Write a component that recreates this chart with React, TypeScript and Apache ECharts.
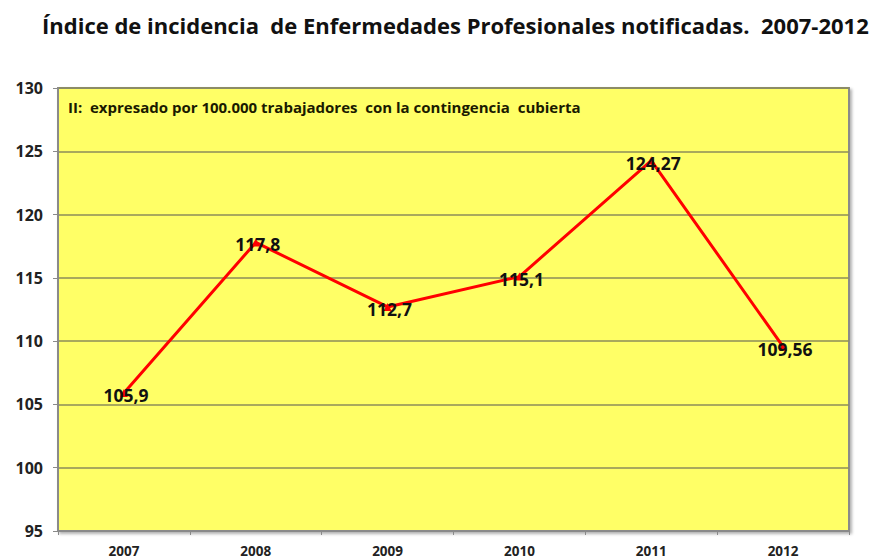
import React, { useEffect, useRef } from "react";
import * as echarts from "echarts";

const categories = ["2007", "2008", "2009", "2010", "2011", "2012"];
const values = [105.9, 117.8, 112.7, 115.1, 124.27, 109.56];
const labels = ["105,9", "117,8", "112,7", "115,1", "124,27", "109,56"];
const yMin = 95;
const yMax = 130;
const yStep = 5;
const titleText = "Índice de incidencia  de Enfermedades Profesionales notificadas.  2007-2012";
const noteText = "II:  expresado por 100.000 trabajadores  con la contingencia  cubierta";

export default function App() {
  const ref = useRef<HTMLDivElement>(null);
  useEffect(() => {
    if (!ref.current) return;
    const chart = echarts.init(ref.current, null, { renderer: "svg" });
    chart.setOption({
      animation: false,
      backgroundColor: "#ffffff",
      title: {
        text: titleText,
        left: 37,
        top: 9,
        textStyle: { fontFamily: "Open Sans", fontWeight: "bold", fontSize: 22, color: "#111" },
      },
      grid: { left: 58, right: 31, top: 88, bottom: 28, show: true, backgroundColor: "#ffff66", borderColor: "#8a8a8a", borderWidth: 2, shadowColor: "rgba(0,0,0,0.3)", shadowBlur: 3, shadowOffsetX: 2, shadowOffsetY: 2 },
      graphic: [
        {
          type: "text",
          left: 68,
          top: 99,
          style: { text: noteText, fontFamily: "Open Sans", fontWeight: "bold", fontSize: 15, fill: "#1a1a00" },
        },
      ],
      xAxis: {
        type: "category",
        data: categories,
        boundaryGap: true,
        axisLine: { show: true, lineStyle: { color: "#8a8a8a", width: 2 } },
        axisTick: { show: true, length: 4, lineStyle: { color: "#8a8a8a" } },
        axisLabel: { color: "#222", fontWeight: "bold", fontSize: 13.5, fontFamily: "Open Sans", margin: 13 },
      },
      yAxis: {
        type: "value",
        min: yMin,
        max: yMax,
        interval: yStep,
        axisLine: { show: true, lineStyle: { color: "#8a8a8a", width: 2 } },
        axisTick: { show: true, length: 5, lineStyle: { color: "#8a8a8a" } },
        splitLine: { show: true, lineStyle: { color: "#8c8c5a", width: 1.5 } },
        axisLabel: { color: "#222", fontWeight: "bold", fontSize: 16, fontFamily: "Open Sans", margin: 15 },
      },
      series: [
        {
          type: "line",
          data: values,
          lineStyle: { color: "#ff0000", width: 3 },
          itemStyle: { color: "#ff0000" },
          symbol: "triangle",
          symbolSize: 8,
          label: {
            show: true,
            position: "inside",
            offset: [2, 2],
            formatter: (p: any) => labels[p.dataIndex],
            fontFamily: "Open Sans",
            fontWeight: "bold",
            fontSize: 17.5,
            color: "#111",
          },
        },
      ],
    });
    return () => chart.dispose();
  }, []);
  return <div ref={ref} style={{ width: 880, height: 559, position: "absolute", left: 0, top: 0 }} />;
}
